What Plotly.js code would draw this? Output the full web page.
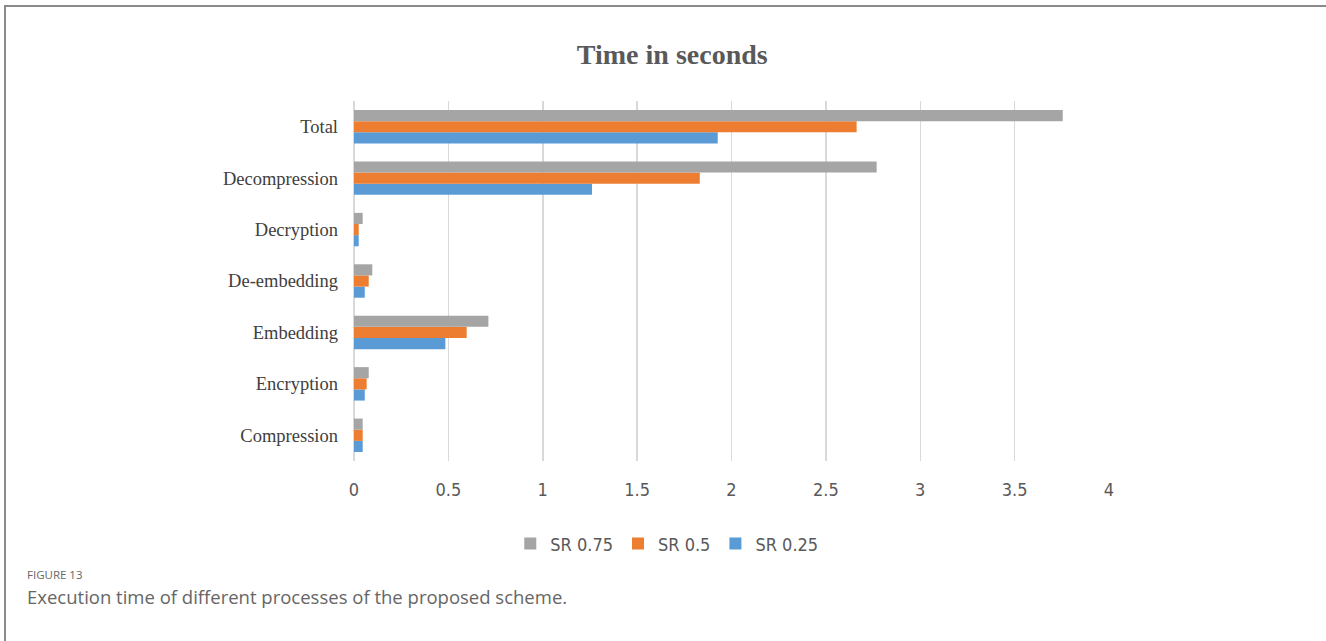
<!DOCTYPE html>
<html>
<head>
<meta charset="utf-8">
<script src="https://cdn.plot.ly/plotly-3.0.1.min.js"></script>
<style>
  html, body { margin: 0; padding: 0; background: #fff; }
  #frame {
    position: absolute; left: 4px; top: 5px; width: 1322px; height: 636px;
    border-left: 2px solid #8a8a8a; border-top: 2px solid #8a8a8a;
    box-sizing: border-box;
  }
  #chart { position: absolute; left: 0; top: 0; width: 1326px; height: 641px; }
  .fig-label {
    position: absolute; left: 27px; top: 567px;
    font-family: "Open Sans", sans-serif; font-size: 11.5px; color: #666;
  }
  .fig-caption {
    position: absolute; left: 27px; top: 584px;
    font-family: "Open Sans", sans-serif; font-size: 18.5px; color: #666;
  }
</style>
</head>
<body>
<div id="chart"></div>
<div id="frame"></div>
<div class="fig-label">FIGURE 13</div>
<div class="fig-caption">Execution time of different processes of the proposed scheme.</div>
<script>
// Processes, listed bottom to top as they appear on the category axis
const processes = ["Compression", "Encryption", "Embedding", "De-embedding", "Decryption", "Decompression", "Total"];

// Execution time (seconds) per process for each sampling rate
const sr025 = [0.046, 0.057, 0.484, 0.057, 0.025, 1.261, 1.927];
const sr050 = [0.046, 0.067, 0.597, 0.078, 0.025, 1.832, 2.663];
const sr075 = [0.046, 0.078, 0.712, 0.097, 0.046, 2.769, 3.755];

const seriesNames = ["SR 0.25", "SR 0.5", "SR 0.75"];
const seriesColors = ["#5B9BD5", "#ED7D31", "#A5A5A5"];
const seriesValues = [sr025, sr050, sr075];

const traces = seriesValues.map((vals, i) => ({
  type: "bar",
  orientation: "h",
  name: seriesNames[i],
  y: processes,
  x: vals,
  marker: { color: seriesColors[i], line: { width: 0 } },
  hoverinfo: "x+name"
}));

const layout = {
  width: 1326,
  height: 641,
  margin: { l: 354, r: 216.5, t: 101, b: 180 },
  paper_bgcolor: "rgba(0,0,0,0)",
  plot_bgcolor: "#fff",
  barmode: "group",
  bargap: 0.35,
  bargroupgap: 0,
  title: {
    text: "<b>Time in seconds</b>",
    x: 0.507, xanchor: "center",
    y: 0.915, yanchor: "middle",
    font: { family: "Liberation Serif, Times New Roman, serif", size: 28, color: "#595959" }
  },
  xaxis: {
    range: [0, 4],
    tickvals: [0, 0.5, 1, 1.5, 2, 2.5, 3, 3.5, 4],
    ticktext: ["0", "0.5", "1", "1.5", "2", "2.5", "3", "3.5", "4"],
    showgrid: true,
    gridcolor: "#D9D9D9",
    gridwidth: 1.5,
    zeroline: true,
    zerolinecolor: "#D9D9D9",
    zerolinewidth: 1.5,
    showline: false,
    ticks: "",
    ticklabelstandoff: 16,
    tickfont: { family: "DejaVu Sans Condensed, sans-serif", size: 18, color: "#595959" },
    fixedrange: true
  },
  yaxis: {
    showgrid: false,
    zeroline: false,
    showline: false,
    ticks: "",
    ticklabelstandoff: 15,
    tickfont: { family: "Liberation Serif, Times New Roman, serif", size: 18.5, color: "#404040" },
    fixedrange: true
  },
  showlegend: true,
  legend: {
    orientation: "h",
    traceorder: "reversed",
    x: 0.207, xanchor: "left",
    y: -0.23, yanchor: "middle",
    font: { family: "DejaVu Sans Condensed, sans-serif", size: 18, color: "#595959" },
    itemwidth: 30,
    bgcolor: "rgba(0,0,0,0)"
  }
};

Plotly.newPlot("chart", traces, layout, { displayModeBar: false, staticPlot: true });
</script>
</body>
</html>
